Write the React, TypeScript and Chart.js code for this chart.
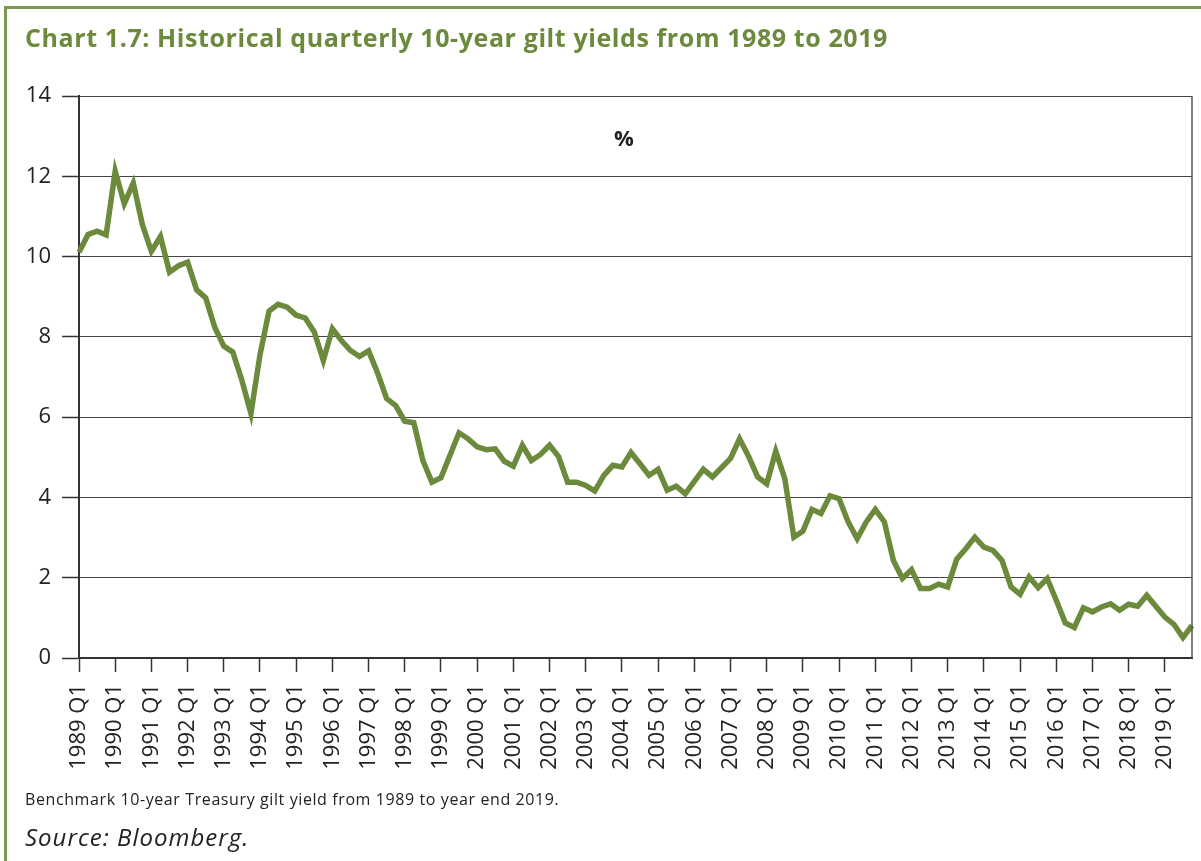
import React, { useEffect, useRef } from "react";
import { Chart, registerables } from "chart.js";

Chart.register(...registerables);

const years = [
  1989, 1990, 1991, 1992, 1993, 1994, 1995, 1996, 1997, 1998, 1999, 2000, 2001, 2002, 2003, 2004,
  2005, 2006, 2007, 2008, 2009, 2010, 2011, 2012, 2013, 2014, 2015, 2016, 2017, 2018, 2019,
];
const quarters = ["Q1", "Q2", "Q3", "Q4"];
const categories = years.flatMap((y) => quarters.map((q) => `${y} ${q}`));

const gilt10y = [
  10.11, 10.55, 10.63, 10.54, 12.13, 11.32, 11.83, 10.8, 10.13, 10.5, 9.61, 9.77, 9.86, 9.17, 8.97, 8.24,
  7.77, 7.62, 6.92, 6.09, 7.55, 8.64, 8.81, 8.74, 8.54, 8.47, 8.12, 7.41, 8.2, 7.91, 7.66, 7.51,
  7.65, 7.1, 6.46, 6.29, 5.9, 5.86, 4.92, 4.38, 4.49, 5.05, 5.61, 5.46, 5.26, 5.19, 5.21, 4.9,
  4.78, 5.3, 4.92, 5.07, 5.3, 5.02, 4.38, 4.38, 4.3, 4.16, 4.55, 4.8, 4.76, 5.12, 4.84, 4.55,
  4.7, 4.18, 4.28, 4.09, 4.4, 4.7, 4.51, 4.74, 4.97, 5.46, 5.02, 4.51, 4.34, 5.15, 4.47, 3.01,
  3.16, 3.7, 3.6, 4.04, 3.97, 3.39, 2.97, 3.39, 3.7, 3.39, 2.43, 1.98, 2.2, 1.73, 1.73, 1.84,
  1.77, 2.46, 2.72, 3.01, 2.76, 2.68, 2.43, 1.77, 1.59, 2.02, 1.75, 1.98, 1.44, 0.87, 0.76, 1.25,
  1.15, 1.27, 1.35, 1.19, 1.34, 1.29, 1.56, 1.29, 1.02, 0.84, 0.51, 0.81,
];

const yTicks = [0, 2, 4, 6, 8, 10, 12, 14];

const GREEN = "#6b8a3c";
const FRAME = "#7b9a52";
const FONT = "'Open Sans', 'Noto Sans', sans-serif";

export default function App() {
  const canvasRef = useRef<HTMLCanvasElement | null>(null);

  useEffect(() => {
    let chart: Chart | null = null;
    let cancelled = false;
    const make = () => {
      if (cancelled || !canvasRef.current) return;
      const rightBorder = {
        id: "rightBorder",
        afterDraw(c: any) {
          const { ctx, chartArea } = c;
          ctx.save();
          ctx.strokeStyle = "#555";
          ctx.lineWidth = 1.5;
          ctx.beginPath();
          ctx.moveTo(chartArea.right, chartArea.top);
          ctx.lineTo(chartArea.right, chartArea.bottom);
          ctx.stroke();
          ctx.restore();
        },
      };
      chart = new Chart(canvasRef.current, {
        type: "line",
        data: {
          labels: categories,
          datasets: [
            {
              data: gilt10y,
              borderColor: GREEN,
              borderWidth: 5.5,
              pointRadius: 0,
              tension: 0,
              fill: false,
            },
          ],
        },
        options: {
          responsive: false,
          animation: false,
          layout: { padding: { left: 0, right: 9, top: 96, bottom: 0 } },
          plugins: { legend: { display: false }, tooltip: { enabled: false } },
          scales: {
            x: {
              type: "category",
              offset: false,
              grid: {
                drawOnChartArea: false,
                drawTicks: true,
                tickLength: 14,
                tickWidth: 1.5,
                tickColor: (ctx: any) => (ctx.index % 4 === 0 ? "#333" : "rgba(0,0,0,0)"),
              },
              border: { color: "#333", width: 2 },
              ticks: {
                autoSkip: false,
                minRotation: 90,
                maxRotation: 90,
                padding: 12,
                color: "#222",
                font: { family: FONT, size: 22 },
                callback: (_v: any, i: number) => (i % 4 === 0 ? categories[i] : ""),
              },
              afterFit: (s: any) => {
                s.height = 861 - 658;
                s.paddingLeft = 0;
                s.paddingRight = 0;
              },
            },
            y: {
              min: 0,
              max: 14,
              afterBuildTicks: (s: any) => {
                s.ticks = yTicks.map((v) => ({ value: v }));
              },
              grid: {
                color: "#444",
                lineWidth: 1,
                drawTicks: true,
                tickLength: 17,
                tickColor: "#333",
                tickWidth: 1.5,
              },
              border: { color: "#333", width: 2 },
              ticks: {
                padding: 11,
                color: "#222",
                font: { family: FONT, size: 22 },
              },
              afterFit: (s: any) => {
                s.width = 79;
                s.paddingTop = 0;
                s.paddingBottom = 0;
              },
            },
          },
        },
        plugins: [rightBorder],
      });
    };
    const fontsReady = (document as any).fonts
      ? Promise.all([
          (document as any).fonts.load(`22px 'Open Sans'`),
          (document as any).fonts.load(`bold 24px 'Open Sans'`),
        ]).catch(() => null)
      : Promise.resolve(null);
    fontsReady.then(make);
    return () => {
      cancelled = true;
      if (chart) chart.destroy();
    };
  }, []);

  return (
    <div
      style={{
        position: "absolute",
        left: 0,
        top: 0,
        width: 1201,
        height: 861,
        background: "#fff",
        overflow: "hidden",
        fontFamily: FONT,
      }}
    >
      <div
        style={{
          position: "absolute",
          left: 4,
          top: 6,
          right: 0,
          bottom: 0,
          borderLeft: `3px solid ${FRAME}`,
          borderTop: `3px solid ${FRAME}`,
        }}
      />
      <canvas ref={canvasRef} width={1201} height={861} style={{ position: "absolute", left: 0, top: 0 }} />
      <div
        style={{
          position: "absolute",
          left: 25,
          top: 20,
          fontSize: 25,
          fontWeight: 700,
          letterSpacing: 0.6,
          color: GREEN,
          whiteSpace: "nowrap",
        }}
      >
        Chart 1.7: Historical quarterly 10-year gilt yields from 1989 to 2019
      </div>
      <div
        style={{
          position: "absolute",
          left: 624,
          top: 122,
          transform: "translateX(-50%)",
          fontSize: 22,
          fontWeight: 700,
          color: "#222",
        }}
      >
        %
      </div>
      <div
        style={{
          position: "absolute",
          left: 25,
          top: 788,
          fontSize: 16,
          letterSpacing: 0.6,
          color: "#222",
          whiteSpace: "nowrap",
        }}
      >
        Benchmark 10-year Treasury gilt yield from 1989 to year end 2019.
      </div>
      <div
        style={{
          position: "absolute",
          left: 25,
          top: 820,
          fontSize: 24,
          fontStyle: "italic",
          letterSpacing: 1,
          color: "#222",
          whiteSpace: "nowrap",
        }}
      >
        Source: Bloomberg.
      </div>
    </div>
  );
}
